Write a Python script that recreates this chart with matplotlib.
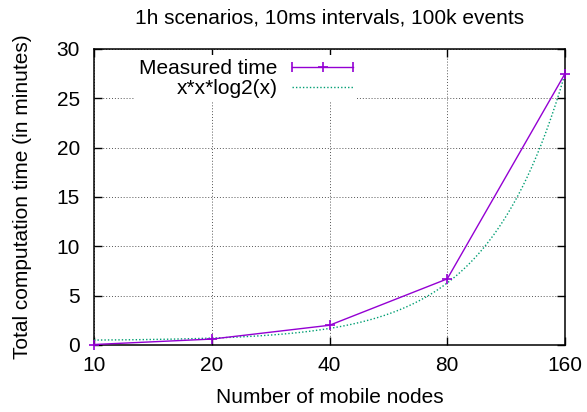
import matplotlib
matplotlib.use("Agg")
import matplotlib.pyplot as plt
from matplotlib.lines import Line2D
from matplotlib.legend_handler import HandlerLine2D, HandlerTuple
import numpy as np

plt.rcParams['font.family'] = ['Liberation Sans', 'DejaVu Sans']

# data
nodes = [10, 20, 40, 80, 160]
measured = [0.05, 0.6, 2.0, 6.7, 27.5]
xticks = [10, 20, 40, 80, 160]
yticks = [0, 5, 10, 15, 20, 25, 30]

# fitted curve a*x*x*log2(x) + b as labelled in the key
fit_a = 1.443e-4
fit_b = 0.45

purple = '#9400d3'
green = '#009e73'
fs = 15

fig = plt.figure(figsize=(5.87, 4.12), dpi=100)
ax = fig.add_axes([94 / 587, 67 / 412, 471 / 587, 296 / 412])

xs = np.geomspace(10, 160, 200)
ax.plot(xs, fit_a * xs * xs * np.log2(xs) + fit_b, color=green,
        linestyle=(0, (1, 1.5)), linewidth=1.0, zorder=3)
ax.plot(nodes, measured, color=purple, linewidth=1.0, marker='+',
        markersize=7, markeredgewidth=1.2, zorder=4, clip_on=False)

ax.set_xscale('log')
ax.set_xlim(10, 160)
ax.set_ylim(0, 30)
ax.set_xticks(xticks)
ax.set_xticklabels([str(t) for t in xticks])
ax.minorticks_off()
ax.set_yticks(yticks)

ax.grid(True, color='#555555', linestyle=(0, (1, 2)), linewidth=0.7)
ax.set_axisbelow(True)
ax.tick_params(direction='in', length=6, width=1.0, top=True, right=True,
               labelsize=fs)
ax.tick_params(axis='x', pad=8)
ax.tick_params(axis='y', pad=10)
for s in ax.spines.values():
    s.set_linewidth(1.1)

ax.set_title('1h scenarios, 10ms intervals, 100k events', fontsize=fs, pad=18)
ax.set_xlabel('Number of mobile nodes', fontsize=fs, labelpad=9)
ax.set_ylabel('Total computation time (in minutes)', fontsize=fs, labelpad=18)

# key handles in gnuplot errorbar style
main_h = Line2D([], [], color=purple, linewidth=1.0, marker='+',
                markersize=7, markeredgewidth=1.2)
caps_h = Line2D([], [], color=purple, linestyle='none', marker='|',
                markersize=7, markeredgewidth=1.2)
fit_h = Line2D([], [], color=green, linestyle=(0, (1, 1.5)), linewidth=1.0)

leg = ax.legend([(main_h, caps_h), fit_h], ['Measured time', 'x*x*log2(x)'],
                handler_map={caps_h: HandlerLine2D(numpoints=2, marker_pad=0),
                             tuple: HandlerTuple(ndivide=1, pad=0)},
                loc='upper right', bbox_to_anchor=(357 / 587, 1 - 55 / 412),
                bbox_transform=fig.transFigure, markerfirst=False,
                fontsize=fs, handlelength=2.9, handletextpad=0.72,
                labelspacing=0.05, borderpad=0.2, borderaxespad=0,
                frameon=True, fancybox=False, framealpha=1.0)
leg.get_frame().set_edgecolor('none')
leg.get_frame().set_facecolor('white')
for t in leg.get_texts():
    t.set_ha('right')
leg._legend_box.align = 'right'

fig.savefig('out.png', dpi=100)
